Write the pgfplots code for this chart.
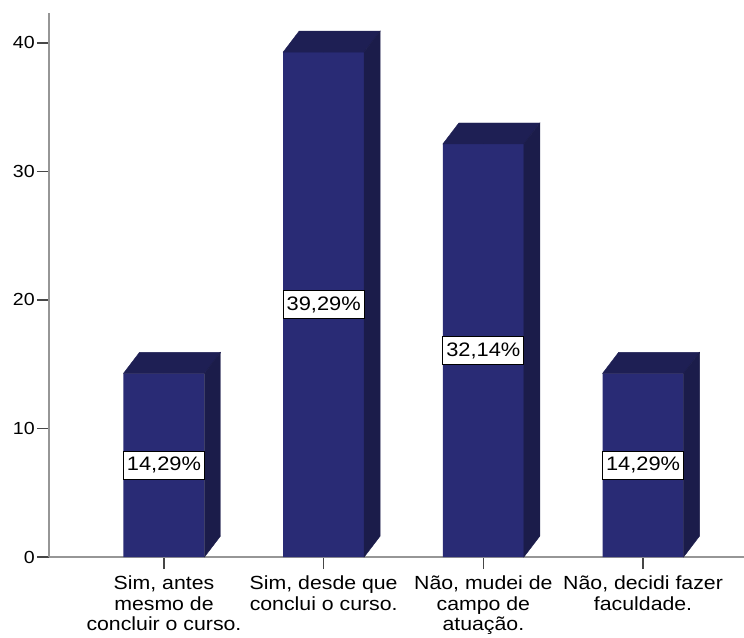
\documentclass[border=0pt]{standalone}
\usepackage{pgfplots}
\pgfplotsset{compat=1.18}
\usepackage{pgfplotstable}
\usepackage{fontspec}
\setmainfont[FakeStretch=1.12]{Liberation Sans}

\definecolor{frontc}{RGB}{41,43,117}
\definecolor{topc}{RGB}{30,31,84}
\definecolor{sidec}{RGB}{27,28,74}
\definecolor{axgray}{RGB}{150,150,150}
\definecolor{tickgray}{RGB}{70,70,70}

\pgfplotstableread{
x v
0 14.29
1 39.29
2 32.14
3 14.29
}\bars

\begin{document}
\begin{tikzpicture}
\begin{axis}[
    at={(0,0)}, anchor=south west,
    scale only axis,
    width=695pt, height=544pt,
    xmin=-0.720, xmax=3.632,
    ymin=0, ymax=42.33,
    axis x line=bottom, axis y line=left,
    axis line style={-, axgray, line width=1.6pt},
    tick align=outside,
    major tick length=12pt,
    tick style={tickgray, line width=1.6pt},
    xtick={0,1,2,3},
    xticklabels={{Sim, antes\\mesmo de\\concluir o curso.},
                 {Sim, desde que\\conclui o curso.},
                 {Não, mudei de\\campo de\\atuação.},
                 {Não, decidi fazer\\faculdade.}},
    xticklabel style={align=center, font=\fontsize{19}{20.5}\selectfont, inner sep=2pt, yshift=-5pt},
    ytick={0,10,20,30,40},
    yticklabel style={font=\fontsize{17.5}{20}\selectfont, inner sep=2pt},
    /pgf/number format/assume math mode=true,
    clip=false,
]
% front faces
\addplot[ybar, bar width=81pt, fill=frontc, draw=none] table[x=x, y=v] {\bars};
% top and side faces
\addplot[scatter, only marks, mark=*, mark size=0pt,
    mark options={draw=none, fill=none},
    visualization depends on={\thisrow{v} \as \yv},
    scatter/@pre marker code/.code={%
        \pgfmathsetmacro\hh{\yv*12.852}%
        \begin{scope}
        \fill[topc] (-40.5pt,0pt) -- (-24.5pt,21pt) -- (56.5pt,21pt) -- (40.5pt,0pt) -- cycle;
        \fill[sidec] (40.5pt,0pt) -- (56.5pt,21pt) -- (56.5pt,21pt-\hh pt) -- (40.5pt,-\hh pt) -- cycle;
    },
    scatter/@post marker code/.code={\end{scope}},
] table[x=x, y=v] {\bars};
% value labels at mid-height
\addplot[draw=none, mark=none,
    point meta=\thisrow{v},
    nodes near coords={\pgfmathprintnumber[fixed,fixed zerofill,precision=2,use comma,assume math mode=true]{\pgfplotspointmeta}\%},
    every node near coord/.append style={anchor=center, fill=white, draw=black,
        line width=1pt, inner xsep=3.5pt, inner ysep=6pt,
        font=\fontsize{19.5}{20}\selectfont},
] table[x=x, y expr=\thisrow{v}/2] {\bars};
\end{axis}
\pgfresetboundingbox
\path[use as bounding box] (-49pt,-80pt) rectangle (695pt,557pt);
\end{tikzpicture}
\end{document}
